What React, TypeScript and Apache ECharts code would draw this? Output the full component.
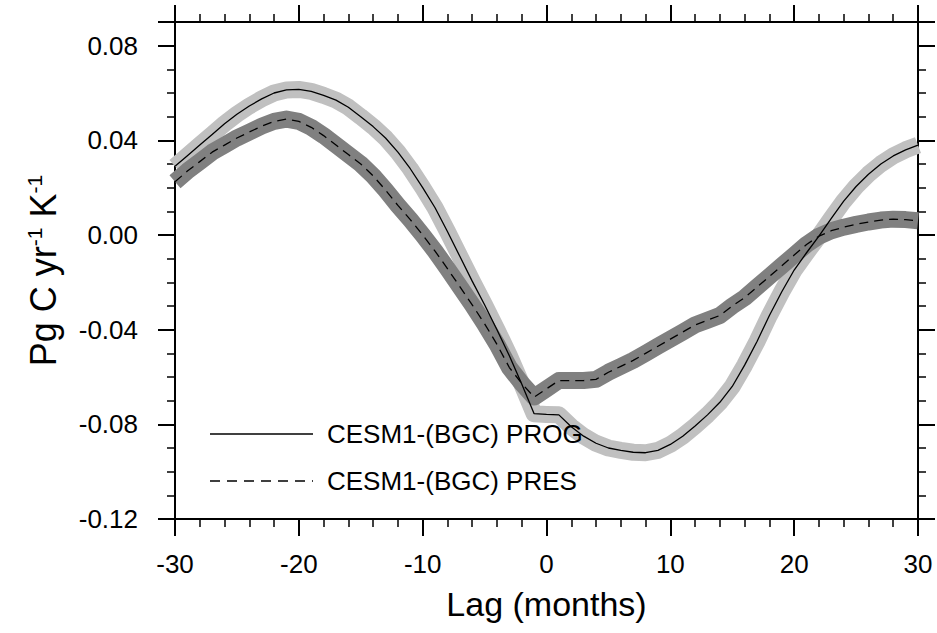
import React, { useEffect, useRef } from "react";
import * as echarts from "echarts";

const lags: number[] = [
  -30, -29, -28, -27, -26, -25, -24, -23, -22, -21, -20, -19, -18, -17, -16, -15,
  -14, -13, -12, -11, -10, -9, -8, -7, -6, -5, -4, -3, -2, -1, 0, 1, 2, 3, 4, 5,
  6, 7, 8, 9, 10, 11, 12, 13, 14, 15, 16, 17, 18, 19, 20, 21, 22, 23, 24, 25, 26,
  27, 28, 29, 30,
];

// CESM1-(BGC) PROG (solid)
const progValues: number[] = [
  0.029, 0.0335, 0.038, 0.0425, 0.047, 0.051, 0.0545, 0.0575, 0.060, 0.0613, 0.0615,
  0.0607, 0.059, 0.057, 0.054, 0.050, 0.0458, 0.041, 0.035, 0.028, 0.020, 0.0115,
  0.0015, -0.009, -0.0195, -0.0295, -0.040, -0.051, -0.063, -0.0755, -0.0758, -0.076,
  -0.081, -0.085, -0.088, -0.090, -0.091, -0.0918, -0.092, -0.091, -0.0885, -0.085,
  -0.0807, -0.076, -0.0707, -0.064, -0.055, -0.045, -0.034, -0.024, -0.0148, -0.0075,
  -0.0005, 0.007, 0.0143, 0.0205, 0.0257, 0.030, 0.0334, 0.036, 0.038,
];

// CESM1-(BGC) PRES (dashed)
const presValues: number[] = [
  0.0225, 0.027, 0.031, 0.035, 0.038, 0.041, 0.0435, 0.046, 0.048, 0.049, 0.048,
  0.0455, 0.042, 0.038, 0.034, 0.030, 0.025, 0.019, 0.0125, 0.0065, 0.0, -0.0068,
  -0.0142, -0.0218, -0.0295, -0.0375, -0.0462, -0.056, -0.0627, -0.0685, -0.065, -0.0615,
  -0.0615, -0.0615, -0.061, -0.058, -0.0555, -0.053, -0.050, -0.047, -0.044, -0.041,
  -0.038, -0.036, -0.034, -0.030, -0.0265, -0.022, -0.0175, -0.013, -0.0085, -0.004,
  -0.0005, 0.0018, 0.0033, 0.0045, 0.0055, 0.0063, 0.0067, 0.0065, 0.006,
];

const seriesNames: string[] = ["CESM1-(BGC) PROG", "CESM1-(BGC) PRES"];
const xTitle = "Lag (months)";

const FONT = "'Liberation Sans', Arial, Helvetica, sans-serif";

export default function App() {
  const ref = useRef<HTMLDivElement>(null);

  useEffect(() => {
    if (!ref.current) return;
    const chart = echarts.init(ref.current, undefined, { renderer: "svg" });

    const prog = lags.map((l, i) => [l, progValues[i]]);
    const pres = lags.map((l, i) => [l, presValues[i]]);

    const majorTick = { show: true, inside: false, length: 17, lineStyle: { color: "#000", width: 2 } };
    const minorTickX = { show: true, splitNumber: 5, length: 8, lineStyle: { color: "#000", width: 1.5 } };
    const axisLine = { show: true, onZero: false, lineStyle: { color: "#000", width: 2 } };

    const yFormatter = (v: number) => {
      const r = Math.round(v * 100);
      if (r % 4 !== 0) return "";
      if (Math.abs(v) < 1e-9) return "0.00";
      return v.toFixed(2);
    };

    const yBase = {
      type: "value",
      min: -0.12,
      max: 0.09,
      splitLine: { show: false },
      axisLine,
    };

    const option: any = {
      animation: false,
      backgroundColor: "#fff",
      grid: { left: 175, right: 19, top: 22, bottom: 114, containLabel: false },
      xAxis: [
        {
          type: "value",
          position: "bottom",
          min: -30,
          max: 30,
          interval: 10,
          axisLine,
          axisTick: majorTick,
          minorTick: minorTickX,
          splitLine: { show: false },
          minorSplitLine: { show: false },
          axisLabel: { fontSize: 26, color: "#000", margin: 32, fontFamily: FONT },
          name: xTitle,
          nameLocation: "middle",
          nameGap: 68,
          nameTextStyle: { fontSize: 34, color: "#000", fontFamily: FONT },
        },
        {
          type: "value",
          position: "top",
          min: -30,
          max: 30,
          interval: 10,
          axisLine,
          axisTick: majorTick,
          minorTick: minorTickX,
          splitLine: { show: false },
          minorSplitLine: { show: false },
          axisLabel: { show: false },
        },
      ],
      yAxis: [
        {
          ...yBase,
          position: "left",
          interval: 0.04,
          axisTick: majorTick,
          axisLabel: { fontSize: 26, color: "#000", margin: 37, fontFamily: FONT, formatter: yFormatter },
          name: "{a|Pg C yr}{s|-1}{a| K}{s|-1}",
          nameLocation: "middle",
          nameRotate: 90,
          nameGap: 114,
          nameTextStyle: {
            color: "#000",
            fontFamily: FONT,
            rich: {
              a: { fontSize: 36, fontFamily: FONT, color: "#000", lineHeight: 37, verticalAlign: "bottom" },
              s: { fontSize: 21, fontFamily: FONT, color: "#000", lineHeight: 37, verticalAlign: "top" },
            },
          },
        },
        {
          ...yBase,
          position: "left",
          interval: 0.01,
          axisTick: { show: true, inside: false, length: 8, lineStyle: { color: "#000", width: 1.5 } },
          axisLabel: { show: false },
        },
        {
          ...yBase,
          position: "right",
          interval: 0.04,
          axisTick: majorTick,
          axisLabel: { show: false },
        },
        {
          ...yBase,
          position: "right",
          interval: 0.01,
          axisTick: { show: true, inside: false, length: 8, lineStyle: { color: "#000", width: 1.5 } },
          axisLabel: { show: false },
        },
      ],
      series: [
        {
          type: "line",
          name: seriesNames[0] + " band",
          data: prog,
          symbol: "none",
          silent: true,
          z: 1,
          lineStyle: { color: "#c0c0c0", width: 17, join: "round", cap: "butt" },
        },
        {
          type: "line",
          name: seriesNames[1] + " band",
          data: pres,
          symbol: "none",
          silent: true,
          z: 2,
          lineStyle: { color: "#808080", width: 17, join: "round", cap: "butt" },
        },
        {
          type: "line",
          name: seriesNames[0],
          data: prog,
          symbol: "none",
          silent: true,
          z: 3,
          lineStyle: { color: "#000", width: 1.3 },
        },
        {
          type: "line",
          name: seriesNames[1],
          data: pres,
          symbol: "none",
          silent: true,
          z: 4,
          lineStyle: { color: "#000", width: 1.3, type: [9, 6] },
        },
      ],
      graphic: [
        {
          type: "line",
          z: 100,
          shape: { x1: 210, y1: 434, x2: 313, y2: 434 },
          style: { stroke: "#000", lineWidth: 1.3 },
        },
        {
          type: "text",
          z: 100,
          x: 327,
          y: 434,
          style: { text: seriesNames[0], fontSize: 26, fontFamily: FONT, fill: "#000", verticalAlign: "middle" },
        },
        {
          type: "line",
          z: 100,
          shape: { x1: 210, y1: 481, x2: 313, y2: 481 },
          style: { stroke: "#000", lineWidth: 1.3, lineDash: [10, 7] },
        },
        {
          type: "text",
          z: 100,
          x: 327,
          y: 481,
          style: { text: seriesNames[1], fontSize: 26, fontFamily: FONT, fill: "#000", verticalAlign: "middle" },
        },
      ],
    };

    chart.setOption(option);
    return () => chart.dispose();
  }, []);

  return (
    <div
      ref={ref}
      style={{ position: "fixed", left: 0, top: 0, width: 937, height: 633, background: "#fff" }}
    />
  );
}
